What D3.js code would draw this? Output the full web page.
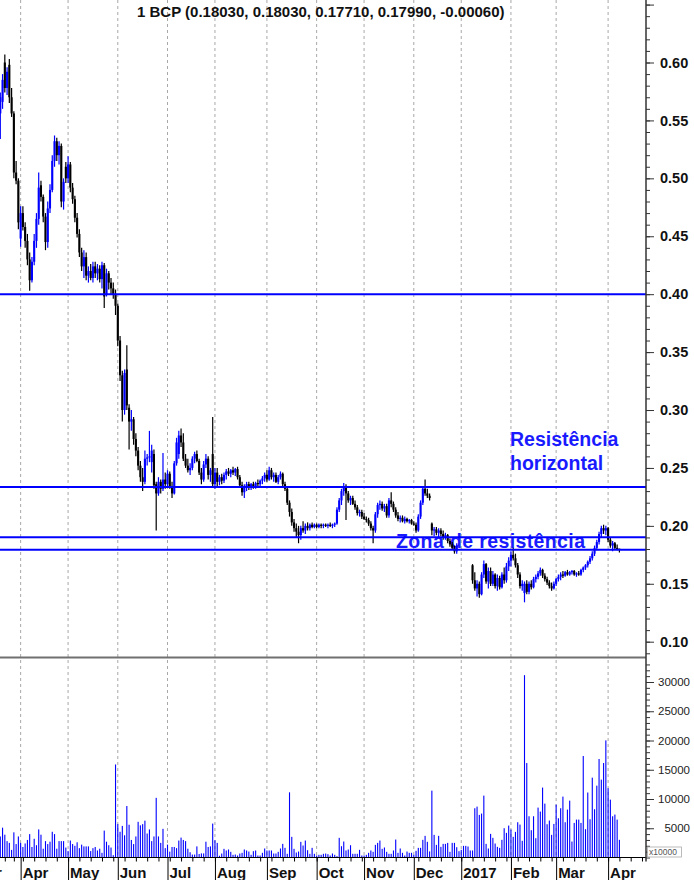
<!DOCTYPE html>
<html><head><meta charset="utf-8">
<script src="https://cdn.jsdelivr.net/npm/d3@7"></script>
<style>html,body{margin:0;padding:0;background:#fff;}svg{display:block;}</style>
</head><body>
<svg id="chart" width="694" height="880"></svg>
<script>
// ---------------- DATA ----------------
const title = "1 BCP (0.18030, 0.18030, 0.17710, 0.17990, -0.00060)";
const calendarStart = "2016-03-01";
const calendarEnd = "2017-04-28";
const dataStart = "2016-03-17";
const holidays = ["2016-03-25", "2016-03-28", "2016-12-26"];

const open = [
.556,.566,.600,.578,.598,.570,.556,.505,.498,.448,
.470,.458,.446,.430,.412,.428,.446,.465,.494,.484,
.467,.445,.474,.490,.515,.532,.520,.528,.480,.510,
.500,.512,.492,.482,.466,.452,.436,.424,.432,.416,
.420,.414,.424,.418,.422,.413,.425,.400,.418,.410,
.405,.400,.390,.360,.330,.300,.335,.302,.290,.292,
.275,.265,.252,.242,.238,.258,.259,.255,.262,.236,
.228,.238,.232,.240,.236,.245,.234,.228,.254,.262,
.278,.272,.258,.252,.248,.250,.258,.262,.256,.246,
.240,.253,.258,.244,.262,.236,.246,.238,.242,.239,
.244,.247,.245,.248,.246,.249,.242,.235,.229,.233,
.236,.233,.236,.234,.237,.236,.239,.241,.244,.240,
.248,.242,.244,.238,.242,.245,.236,.232,.220,.212,
.203,.198,.195,.192,.198,.196,.200,.198,.201,.199,
.201,.199,.201,.200,.201,.200,.201,.200,.201,.202,
.214,.222,.230,.234,.228,.222,.224,.219,.216,.211,
.212,.208,.206,.205,.202,.198,.196,.210,.218,.219,
.215,.217,.209,.222,.219,.214,.209,.206,.207,.204,
.206,.204,.205,.202,.201,.196,.208,.220,.232,.228,
.226,.202,.196,.197,.194,.196,.193,.190,.192,.187,
.184,.181,.178,null,null,null,null,null,null,.166,
.153,.146,.150,.141,.158,.167,.152,.161,.150,.158,
.148,.155,.147,.158,.153,.165,.170,.175,.172,.166,
.158,.148,.142,.150,.143,.150,.147,.154,.156,.159,
.162,.157,.154,.151,.148,.146,.150,.154,.156,.158,
.157,.160,.158,.160,.161,.158,.159,.158,.162,.164,
.166,.169,.172,.176,.181,.186,.193,.198,.196,.198,
.188,.183,.185,.181,.1803];

const high = [
.574,.590,.607,.596,.603,.578,.558,.515,.500,.476,
.476,.462,.452,.436,.432,.452,.470,.505,.498,.486,
.470,.480,.495,.520,.537,.535,.532,.530,.500,.514,
.519,.514,.496,.485,.470,.456,.440,.438,.436,.424,
.426,.428,.428,.426,.425,.428,.427,.422,.420,.414,
.410,.404,.392,.364,.334,.335,.356,.305,.300,.294,
.280,.268,.256,.250,.265,.262,.282,.270,.266,.238,
.242,.240,.263,.246,.248,.247,.238,.256,.276,.282,
.284,.280,.262,.258,.254,.260,.264,.265,.258,.250,
.256,.262,.260,.250,.294,.250,.250,.244,.245,.246,
.249,.250,.249,.251,.250,.251,.244,.238,.236,.238,
.238,.237,.238,.238,.240,.240,.243,.246,.248,.251,
.250,.246,.246,.244,.247,.246,.238,.234,.222,.215,
.206,.202,.200,.200,.204,.202,.203,.202,.203,.202,
.202,.202,.202,.202,.202,.202,.203,.202,.203,.216,
.224,.232,.237,.236,.230,.226,.226,.222,.218,.214,
.214,.211,.208,.207,.204,.200,.212,.220,.222,.221,
.219,.219,.224,.229,.221,.216,.212,.209,.209,.208,
.207,.206,.206,.204,.203,.210,.222,.234,.240,.232,
.228,.203,.199,.199,.198,.198,.196,.194,.193,.189,
.186,.183,.185,null,null,null,null,null,null,.167,
.160,.153,.152,.160,.170,.168,.164,.164,.161,.159,
.158,.157,.160,.164,.168,.173,.178,.181,.176,.168,
.160,.153,.152,.153,.152,.153,.156,.158,.161,.164,
.163,.159,.156,.153,.151,.152,.155,.158,.160,.161,
.161,.162,.161,.162,.162,.160,.161,.163,.165,.167,
.170,.174,.178,.183,.188,.195,.200,.201,.200,.199,
.190,.187,.186,.184,.1803];

const low = [
.534,.560,.574,.572,.565,.553,.500,.495,.456,.441,
.455,.440,.425,.403,.410,.425,.440,.460,.480,.462,
.438,.440,.470,.488,.510,.515,.512,.475,.473,.496,
.496,.488,.478,.462,.449,.432,.420,.414,.412,.410,
.412,.410,.414,.412,.410,.405,.388,.398,.404,.400,
.396,.382,.355,.325,.290,.296,.300,.266,.282,.270,
.260,.248,.238,.230,.236,.252,.255,.246,.232,.196,
.226,.228,.230,.232,.234,.232,.224,.227,.252,.258,
.268,.256,.250,.246,.244,.248,.254,.255,.244,.236,
.238,.250,.240,.238,.233,.232,.234,.235,.236,.237,
.240,.243,.242,.244,.243,.240,.233,.226,.224,.230,
.231,.231,.232,.232,.234,.234,.236,.238,.238,.239,
.240,.238,.237,.236,.240,.234,.230,.218,.208,.200,
.195,.190,.185,.188,.194,.193,.196,.196,.198,.198,
.198,.198,.198,.198,.199,.198,.199,.198,.199,.201,
.212,.218,.226,.205,.220,.218,.218,.214,.209,.208,
.206,.205,.203,.200,.196,.185,.194,.207,.214,.213,
.212,.207,.207,.216,.212,.207,.204,.203,.203,.202,
.203,.202,.201,.200,.194,.195,.206,.218,.226,.224,
.222,.192,.191,.192,.190,.191,.188,.188,.185,.182,
.180,.176,.176,null,null,null,null,null,null,.150,
.144,.139,.138,.140,.155,.150,.146,.148,.148,.146,
.144,.145,.146,.150,.151,.161,.165,.170,.164,.155,
.146,.144,.134,.141,.141,.145,.146,.151,.154,.157,
.155,.152,.149,.146,.144,.145,.148,.152,.153,.155,
.156,.157,.157,.158,.157,.156,.157,.157,.160,.162,
.164,.167,.170,.174,.179,.184,.190,.193,.192,.186,
.181,.178,.180,.179,.1771];

const close = [
.570,.585,.578,.592,.570,.556,.505,.498,.462,.470,
.458,.446,.430,.412,.428,.446,.465,.492,.484,.467,
.445,.474,.490,.515,.532,.520,.528,.480,.497,.500,
.512,.492,.482,.466,.452,.436,.424,.432,.416,.420,
.414,.424,.418,.422,.413,.425,.398,.418,.410,.405,
.400,.390,.360,.330,.300,.332,.304,.290,.292,.275,
.265,.252,.242,.238,.258,.259,.260,.265,.235,.228,
.238,.232,.240,.236,.245,.234,.228,.254,.272,.278,
.272,.258,.252,.248,.250,.258,.262,.256,.246,.240,
.253,.258,.244,.248,.236,.246,.238,.242,.239,.244,
.247,.245,.248,.246,.249,.242,.235,.229,.233,.236,
.233,.236,.234,.237,.236,.239,.241,.244,.240,.248,
.242,.244,.238,.242,.245,.236,.232,.220,.212,.203,
.198,.195,.192,.198,.196,.200,.198,.201,.199,.201,
.199,.201,.200,.201,.200,.201,.200,.201,.202,.214,
.222,.230,.234,.228,.222,.224,.219,.216,.211,.212,
.208,.206,.205,.202,.198,.196,.210,.218,.219,.215,
.217,.209,.222,.219,.214,.209,.206,.207,.204,.206,
.204,.205,.202,.201,.196,.208,.220,.232,.228,.226,
.224,.196,.197,.194,.196,.193,.190,.192,.187,.184,
.181,.178,.183,null,null,null,null,null,null,.153,
.146,.150,.141,.158,.167,.152,.161,.150,.158,.148,
.155,.147,.158,.153,.165,.170,.175,.172,.166,.158,
.148,.150,.150,.143,.150,.147,.154,.156,.159,.162,
.157,.154,.151,.148,.146,.150,.154,.156,.158,.157,
.160,.158,.160,.161,.158,.159,.158,.162,.164,.166,
.169,.172,.176,.181,.186,.193,.198,.196,.198,.188,
.183,.185,.181,.1805,.1799];

// volume, in units of 10000 shares (axis "x10000")
const volume = [
3600,5100,3900,2800,2500,1300,4300,2300,3600,2500,
1800,2400,3000,4000,1800,3200,2100,4800,3900,1500,
2800,2300,2700,4400,4000,1500,2800,2800,2800,1700,
1100,2900,2300,2000,2600,1600,2200,1900,1900,1900,
1100,1600,1800,1200,1500,800,4600,2700,2100,1700,
400,15900,5700,4400,5400,3800,8800,5600,3000,2300,
3600,6100,5500,5700,6300,4100,4800,2800,3600,10200,
3600,2500,4900,1600,2200,1000,1800,1800,1600,2900,
3400,3000,2800,1500,900,500,500,1900,600,700,
700,2700,1800,1900,5800,2950,2500,300,680,1480,
1200,1370,970,460,510,340,680,800,1370,1200,
1020,460,1080,1200,340,340,800,1540,1200,1200,
1200,680,680,970,1540,2330,1650,630,11140,3530,
1480,850,1020,2670,2050,2900,1250,630,1650,630,
340,460,460,630,680,570,340,680,460,230,
3360,1930,2730,1200,1370,2100,630,630,630,1310,
340,340,460,800,1200,970,2160,2500,2900,1480,
1710,970,630,630,1200,3070,800,1540,800,340,
1020,800,800,460,1140,1650,1650,3020,3700,2680,
1040,11430,3870,2160,3700,1820,2330,2330,2500,970,
2500,2500,1760,1080,1310,1990,1990,1880,1200,1200,
8420,8700,7280,7510,10580,2330,1540,4040,3360,2390,
1820,1650,3020,5010,4210,5460,4780,3530,4380,6030,
5630,2850,31170,16150,7050,4670,7050,3300,8530,7850,
11950,9210,5690,6310,3870,5740,9040,6710,8420,10410,
6030,8190,9720,2730,5910,6480,6480,5910,17350,4840,
11110,6540,13650,8250,12280,16840,13310,16150,20020,11830,
9890,7050,7340,6480,3020];

const priceTicks = [0.10, 0.15, 0.20, 0.25, 0.30, 0.35, 0.40, 0.45, 0.50, 0.55, 0.60];
const volumeTicks = [5000, 10000, 15000, 20000, 25000, 30000];
const levels = [0.40, 0.2335, 0.1902, 0.1793];
const notes = ["Resistência", "horizontal", "Zona de resistência"];

// ---------------- LAYOUT ----------------
const FONT = "'Liberation Sans', Arial, Helvetica, sans-serif";
const plotRight = 646, priceBottom = 657.5, volBottom = 857.5;
const svg = d3.select("#chart");

const fmtDay = d3.utcFormat("%Y-%m-%d");
const cal = [];
for (let d = d3.utcParse("%Y-%m-%d")(calendarStart); d <= d3.utcParse("%Y-%m-%d")(calendarEnd); d = d3.utcDay.offset(d, 1)) {
  const wd = d.getUTCDay();
  if (wd === 0 || wd === 6 || holidays.includes(fmtDay(d))) continue;
  cal.push(d);
}
const offset = cal.findIndex(d => fmtDay(d) === dataStart);
const x = d3.scaleLinear().domain([offset, offset + close.length - 1]).range([0.3, 619.4]);
const yP = d3.scaleLinear().domain([0.10, 0.60]).range([641.7, 62.5]);
const yV = d3.scaleLinear().domain([0, 30000]).range([volBottom, 682]);

const monthStarts = cal.map((d, k) => k).filter(k => k === 0 || cal[k].getUTCMonth() !== cal[k - 1].getUTCMonth());
const weekStarts = cal.map((d, k) => k).filter(k => k > 0 && +d3.utcMonday.floor(cal[k]) !== +d3.utcMonday.floor(cal[k - 1]))
  .filter(k => x(k) >= 0 && x(k) <= plotRight);

svg.append("defs").append("clipPath").attr("id", "plotclip")
  .append("rect").attr("x", 0).attr("y", 0).attr("width", plotRight).attr("height", volBottom);

const plot = svg.append("g").attr("clip-path", "url(#plotclip)");

// month grid (dashed)
plot.selectAll("line.grid").data(monthStarts).join("line")
  .attr("x1", k => x(k)).attr("x2", k => x(k)).attr("y1", 0).attr("y2", volBottom)
  .attr("stroke", "#a8a8a8").attr("stroke-width", 1).attr("stroke-dasharray", "3,3");

// annotations (under marks)
const noteG = plot.append("g").attr("font-family", FONT).attr("font-weight", "bold")
  .attr("font-size", "19.5px").attr("fill", "#1a1aff");
noteG.append("text").attr("x", 510).attr("y", 445.5).text(notes[0]);
noteG.append("text").attr("x", 510).attr("y", 470).text(notes[1]);
noteG.append("text").attr("x", 396).attr("y", 548).attr("textLength", 189).text(notes[2]);

// candles
const idx = d3.range(close.length).filter(i => close[i] !== null);
const color = i => close[i] >= open[i] ? "#0000ff" : "#000000";
plot.selectAll("line.wick").data(idx).join("line")
  .attr("x1", i => x(i + offset)).attr("x2", i => x(i + offset))
  .attr("y1", i => yP(high[i])).attr("y2", i => yP(low[i]))
  .attr("stroke", color).attr("stroke-width", 1.2);
plot.selectAll("rect.body").data(idx).join("rect")
  .attr("x", i => x(i + offset) - 1.05).attr("width", 2.1)
  .attr("y", i => yP(Math.max(open[i], close[i])))
  .attr("height", i => Math.max(1.2, Math.abs(yP(open[i]) - yP(close[i]))))
  .attr("fill", color);

// horizontal levels
plot.selectAll("line.level").data(levels).join("line")
  .attr("x1", 0).attr("x2", plotRight).attr("y1", d => yP(d)).attr("y2", d => yP(d))
  .attr("stroke", "#0000ff").attr("stroke-width", 2);

// volume bars
plot.selectAll("rect.vol").data(d3.range(volume.length)).join("rect")
  .attr("x", i => x(i + offset) - 0.55).attr("width", 1.1)
  .attr("y", i => yV(volume[i])).attr("height", i => yV(0) - yV(volume[i]))
  .attr("fill", "#0000ff");

// panel divider, axes lines
svg.append("line").attr("x1", 0).attr("x2", plotRight).attr("y1", priceBottom).attr("y2", priceBottom)
  .attr("stroke", "#707070").attr("stroke-width", 2);
svg.append("line").attr("x1", 0).attr("x2", plotRight).attr("y1", volBottom).attr("y2", volBottom)
  .attr("stroke", "#000").attr("stroke-width", 1);
svg.append("line").attr("x1", plotRight).attr("x2", plotRight).attr("y1", 0).attr("y2", volBottom + 4)
  .attr("stroke", "#333").attr("stroke-width", 1.5);

// price axis
const minorP = d3.range(9, 66).map(v => v / 100).filter(v => yP(v) > 1 && yP(v) < priceBottom - 1);
const gPm = svg.append("g").attr("transform", `translate(${plotRight},0)`)
  .call(d3.axisRight(yP).tickValues(minorP).tickSize(4).tickFormat(""));
gPm.select(".domain").remove();
const gP = svg.append("g").attr("transform", `translate(${plotRight},0)`)
  .call(d3.axisRight(yP).tickValues(priceTicks.concat([0.65]).filter(v => yP(v) > 1)).tickSize(8).tickPadding(6).tickFormat(v => priceTicks.includes(v) ? d3.format(".2f")(v) : ""));
gP.select(".domain").remove();
gP.selectAll("text").attr("font-family", FONT).attr("font-weight", "bold").attr("font-size", "14.5px").attr("fill", "#111");
svg.selectAll(".tick line").attr("stroke", "#333");

// volume axis
const minorV = d3.range(0, 34000, 1000).filter(v => yV(v) > priceBottom + 1);
const gVm = svg.append("g").attr("transform", `translate(${plotRight},0)`)
  .call(d3.axisRight(yV).tickValues(minorV).tickSize(4).tickFormat(""));
gVm.select(".domain").remove();
const gV = svg.append("g").attr("transform", `translate(${plotRight},0)`)
  .call(d3.axisRight(yV).tickValues(volumeTicks).tickSize(8).tickFormat(d3.format("d")));
gV.select(".domain").remove();
gV.selectAll("text").attr("x", 44).attr("text-anchor", "end")
  .attr("font-family", FONT).attr("font-size", "11.5px").attr("fill", "#222");
svg.selectAll(".tick line").attr("stroke", "#333");

// x10000 box
svg.append("rect").attr("x", 647.5).attr("y", 847).attr("width", 34).attr("height", 10)
  .attr("fill", "#fff").attr("stroke", "#aaa").attr("stroke-width", 0.8);
svg.append("text").attr("x", 649).attr("y", 855).attr("font-family", FONT).attr("font-size", "8.5px")
  .attr("fill", "#555").text("x10000");

// bottom axis: weekly ticks + month ticks
const gW = svg.append("g").attr("transform", `translate(0,${volBottom})`)
  .call(d3.axisBottom(x).tickValues(weekStarts).tickSize(4).tickFormat(""));
gW.select(".domain").remove();
gW.selectAll(".tick line").attr("stroke", "#000");
const gM = svg.append("g").attr("transform", `translate(0,${volBottom})`)
  .call(d3.axisBottom(x).tickValues(monthStarts.filter(k => x(k) >= 0 && x(k) <= plotRight)).tickSize(23).tickFormat(""));
gM.select(".domain").remove();
gM.selectAll(".tick line").attr("stroke", "#000");

const monthFmt = d => d.getUTCMonth() === 0 ? d3.utcFormat("%Y")(d) : d3.utcFormat("%b")(d);
svg.append("g").selectAll("text").data(monthStarts.filter(k => x(k) < plotRight - 20)).join("text")
  .attr("x", k => x(k) + 2).attr("y", 878)
  .attr("font-family", FONT).attr("font-weight", "bold").attr("font-size", "15px").attr("fill", "#111")
  .text(k => monthFmt(cal[k]));

// title
svg.append("text").attr("x", 137).attr("y", 17)
  .attr("font-family", FONT).attr("font-weight", "bold").attr("font-size", "15px").attr("fill", "#111")
  .text(title);
</script>
</body></html>
